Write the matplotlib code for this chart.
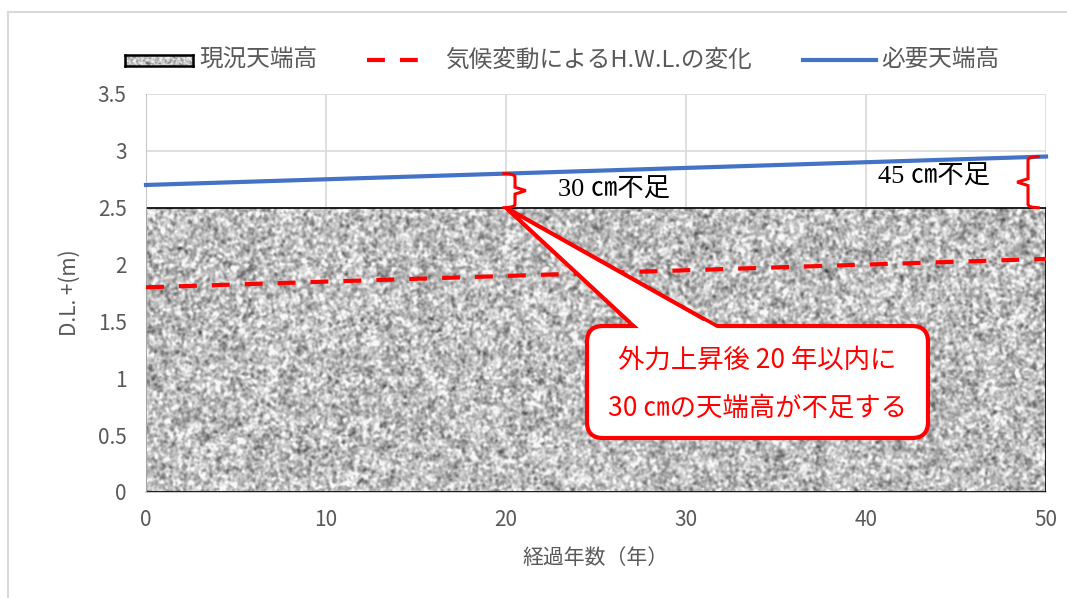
import numpy as np
import matplotlib
matplotlib.use("Agg")
import matplotlib.pyplot as plt
from matplotlib.patches import FancyBboxPatch, Polygon
from matplotlib.lines import Line2D
from matplotlib.path import Path
from matplotlib.patches import PathPatch
import matplotlib.transforms as mtransforms

plt.rcParams['font.family'] = ['Noto Sans CJK JP', 'DejaVu Sans']

# ---- data ----
years = [0, 50]
current_crest = [2.5, 2.5]          # 現況天端高
hwl_change = [1.8, 2.05]            # 気候変動によるH.W.L.の変化
required_crest = [2.7, 2.95]        # 必要天端高
x_ticks = [0, 10, 20, 30, 40, 50]
y_ticks = [0, 0.5, 1, 1.5, 2, 2.5, 3, 3.5]
y_ticklabels = ['0', '0.5', '1', '1.5', '2', '2.5', '3', '3.5']
shortfall_points = [(20, 2.5, 2.8, '30 ㎝不足'), (50, 2.5, 2.95, '45 ㎝不足')]

W, H = 1067, 598
fig = plt.figure(figsize=(W / 100, H / 100), dpi=100)
fig.patch.set_facecolor('white')

# pixel transform (origin top-left)
pix = mtransforms.Affine2D().scale(1 / W, -1 / H).translate(0, 1) + fig.transFigure

# light outer frame
fig.add_artist(Line2D([8, W + 5], [12, 12], transform=pix, color='#d9d9d9', lw=1.5))
fig.add_artist(Line2D([8, 8], [12, H + 5], transform=pix, color='#d9d9d9', lw=1.5))

ax = fig.add_axes([146 / W, 1 - 492 / H, 900 / W, 398 / H])
ax.set_xlim(0, 50)
ax.set_ylim(0, 3.5)

for s in ax.spines.values():
    s.set_visible(False)
ax.spines['bottom'].set_visible(True)
ax.spines['bottom'].set_color('#bfbfbf')
ax.spines['bottom'].set_linewidth(1.2)

ax.set_xticks(x_ticks)
ax.set_yticks(y_ticks)
ax.set_yticklabels(y_ticklabels)
ax.tick_params(axis='both', length=0, colors='#595959', labelsize=15)
ax.tick_params(axis='y', pad=14)
ax.tick_params(axis='x', pad=12)
ax.grid(True, color='#d9d9d9', lw=1.2, zorder=0)
ax.set_axisbelow(True)

ax.set_xlabel('経過年数（年）', fontsize=15, color='#595959', labelpad=12)
ax.set_ylabel('D.L. +(m)', fontsize=15, color='#595959', labelpad=12)


# granite-like texture for the current crest area
def granite(h, w, seed):
    rng = np.random.default_rng(seed)
    fy = np.fft.fftfreq(h)[:, None]
    fx = np.fft.fftfreq(w)[None, :]
    out = np.zeros((h, w))
    for sigma, amp in [(1.2, 1.0), (3.0, 0.3)]:
        n = rng.standard_normal((h, w))
        k = np.exp(-2 * (np.pi * sigma) ** 2 * (fx ** 2 + fy ** 2))
        sm = np.real(np.fft.ifft2(np.fft.fft2(n) * k))
        out += amp * sm / sm.std()
    out /= out.std()
    return np.clip(0.75 + 0.115 * out, 0.25, 0.97)


tex = granite(290, 900, 11)
area = ax.fill_between(years, 0, current_crest, facecolor='none',
                       edgecolor='black', lw=1.2, zorder=3)
img = ax.imshow(tex, cmap='gray', vmin=0, vmax=1, extent=[0, 50, 0, 2.5],
                aspect='auto', interpolation='bilinear', zorder=2)
img.set_clip_path(area.get_paths()[0], transform=ax.transData)
ax.axvline(0, color='#bfbfbf', lw=1.2, zorder=3)

ax.plot(years, hwl_change, color='#ff0000', lw=3, dashes=(4.3, 3.6),
        solid_capstyle='butt', zorder=4)
ax.plot(years, required_crest, color='#4472c4', lw=3, zorder=4, clip_on=False)


# curly braces marking the shortfall
def brace(x_flat, x_stem, x_tip, y0, y1):
    ym = (y0 + y1) / 2
    verts = [(x_flat, y1), (x_stem, y1), (x_stem, y1 - 0.03), (x_stem, ym + 0.03),
             (x_tip, ym), (x_stem, ym - 0.03), (x_stem, y0 + 0.03), (x_stem, y0), (x_flat, y0)]
    codes = [Path.MOVETO, Path.CURVE3, Path.CURVE3, Path.LINETO,
             Path.LINETO, Path.LINETO, Path.LINETO, Path.CURVE3, Path.CURVE3]
    ax.add_patch(PathPatch(Path(verts, codes), facecolor='none', edgecolor='#ff0000',
                           lw=2.2, zorder=6, clip_on=False))


(x1, lo1, hi1, t1), (x2, lo2, hi2, t2) = shortfall_points
brace(x1 - 0.2, x1 + 0.5, x1 + 1.1, lo1, hi1)
brace(x2 - 0.35, x2 - 1.0, x2 - 1.6, lo2, hi2)

serif = ['Liberation Serif', 'Noto Sans CJK JP']
ax.text(22.9, 2.655, t1, family=serif, fontsize=19, color='black',
        ha='left', va='center', zorder=6)
ax.text(46.9, 2.77, t2, family=serif, fontsize=19, color='black',
        ha='right', va='center', zorder=6)

# speech-bubble callout
fig.canvas.draw()
tip_disp = ax.transData.transform((x1, lo1))
tip = (tip_disp[0] * 100 / fig.dpi, H - tip_disp[1] * 100 / fig.dpi)
bx0, by0, bx1, by1 = 587, 326, 928, 438
base_l, base_r = (640, by0 + 6), (727, by0 + 6)
tail = Polygon([tip, base_l, base_r], closed=True, transform=pix,
               facecolor='white', edgecolor='#ff0000', lw=3, joinstyle='miter', zorder=7)
fig.add_artist(tail)
box = FancyBboxPatch((bx0, by0), bx1 - bx0, by1 - by0,
                     boxstyle='round,pad=0,rounding_size=16', transform=pix,
                     facecolor='white', edgecolor='#ff0000', lw=3, zorder=8)
fig.add_artist(box)


def on_edge(p, q, y):
    t = (y - p[1]) / (q[1] - p[1])
    return (p[0] + t * (q[0] - p[0]), y)


ya, yb = by0 - 5, by0 + 6
la, lb = on_edge(tip, base_l, ya), on_edge(tip, base_l, yb)
ra, rb = on_edge(tip, base_r, ya), on_edge(tip, base_r, yb)
fig.add_artist(Polygon([(la[0] + 3, ya), (ra[0] - 3, ya), (rb[0] - 3, yb), (lb[0] + 3, yb)],
                       closed=True, transform=pix, facecolor='white',
                       edgecolor='none', zorder=9))
fig.text(757, 360, '外力上昇後 20 年以内に', transform=pix, fontsize=19,
         color='#ff0000', ha='center', va='center', zorder=10)
fig.text(757, 408, '30 ㎝の天端高が不足する', transform=pix, fontsize=19,
         color='#ff0000', ha='center', va='center', zorder=10)

# legend
lax = fig.add_axes([125 / W, 1 - 66 / H, 68 / W, 11 / H])
lax.imshow(granite(22, 136, 5), cmap='gray', vmin=0, vmax=1, aspect='auto')
lax.set_xticks([])
lax.set_yticks([])
for s in lax.spines.values():
    s.set_linewidth(1.8)
    s.set_color('black')
fig.text(199, 60, '現況天端高', transform=pix, fontsize=17, color='#595959',
         va='center', ha='left')
fig.add_artist(Line2D([367, 420], [60, 60], transform=pix, color='#ff0000', lw=3,
                      dashes=(4.3, 3.6)))
fig.text(445, 60, '気候変動によるH.W.L.の変化', transform=pix, fontsize=17,
         color='#595959', va='center', ha='left')
fig.add_artist(Line2D([803, 876], [60, 60], transform=pix, color='#4472c4', lw=3))
fig.text(881, 60, '必要天端高', transform=pix, fontsize=17, color='#595959',
         va='center', ha='left')

fig.savefig('out.png', dpi=100, facecolor='white')
